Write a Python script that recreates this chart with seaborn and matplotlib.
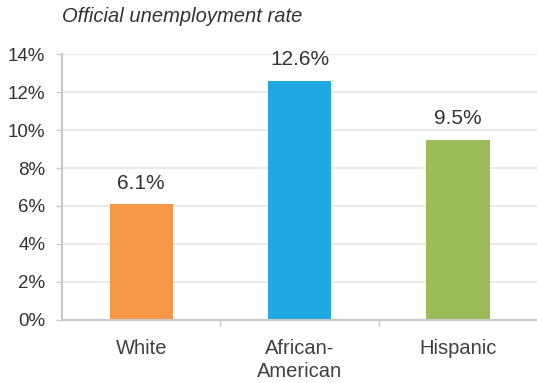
import matplotlib
matplotlib.use("Agg")
import matplotlib.pyplot as plt
import seaborn as sns
import pandas as pd
from matplotlib.ticker import FixedLocator

categories = ["White", "African-\nAmerican", "Hispanic"]
rates = [6.1, 12.6, 9.5]
labels = ["6.1%", "12.6%", "9.5%"]
colors = ["#F79646", "#21A9E1", "#9BBB59"]
yticks = [0, 2, 4, 6, 8, 10, 12, 14]
ytick_labels = ["0%", "2%", "4%", "6%", "8%", "10%", "12%", "14%"]
title = "Official unemployment rate"

sns.set_theme(style="white")
plt.rcParams['font.family'] = ['Liberation Sans', 'DejaVu Sans']

df = pd.DataFrame({"cat": categories, "rate": rates})

fig = plt.figure(figsize=(5.37, 3.83), dpi=100)
ax = fig.add_axes([0.1155, 0.1645, 0.8845, 0.6945])

sns.barplot(data=df, x="cat", y="rate", hue="cat", palette=colors,
            legend=False, width=0.4, ax=ax, saturation=1, edgecolor="none")

ax.set_ylim(0, 14)
ax.set_xlim(-0.5, 2.5)
ax.set_yticks(yticks)
ax.set_yticklabels(ytick_labels, fontsize=13.5, color="#333333")
ax.yaxis.grid(True, color="#e6e6e6", linewidth=1.2)
ax.set_axisbelow(True)
ax.set_xlabel("")
ax.set_ylabel("")
ax.tick_params(axis="x", length=0, labelsize=14.5, labelcolor="#404040", pad=14)
for t in ax.get_xticklabels():
    t.set_linespacing(1.25)
ax.tick_params(axis="y", which="major", length=4, width=1, color="#c8c8c8", left=True, pad=8)
ax.xaxis.set_minor_locator(FixedLocator([0.5, 1.5]))
ax.tick_params(axis="x", which="minor", length=4, width=1, color="#c8c8c8", bottom=True, direction="out")

for s in ["top", "right"]:
    ax.spines[s].set_visible(False)
for s in ["left", "bottom"]:
    ax.spines[s].set_color("#c8c8c8")
    ax.spines[s].set_linewidth(1.5)

for i, (v, lab) in enumerate(zip(rates, labels)):
    ax.annotate(lab, (i, v), xytext=(0, 8), textcoords="offset points",
                ha="center", va="bottom", fontsize=15, color="#333333")

fig.text(62 / 537, 1 - 16 / 383, title, fontsize=14.5, style="italic",
         color="#333333", ha="left", va="center")

fig.savefig("out.png", dpi=100)
